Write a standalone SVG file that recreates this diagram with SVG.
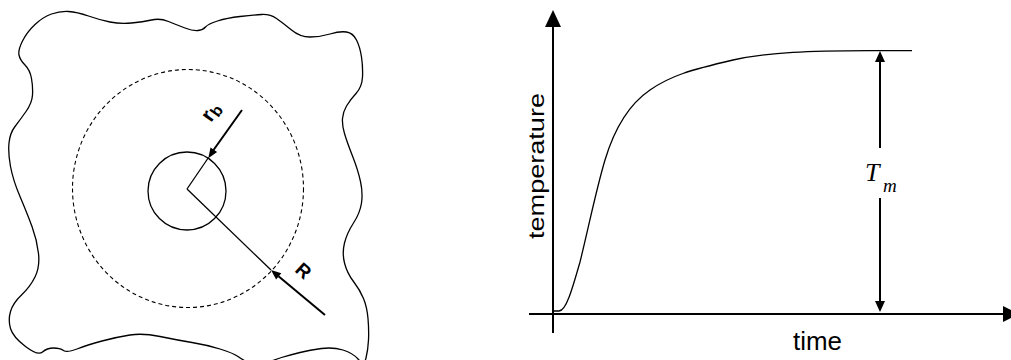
<svg xmlns="http://www.w3.org/2000/svg" width="1011" height="360" viewBox="0 0 1011 360">
<style>
.thin{fill:none;stroke:#000;stroke-width:1.3}
.thick{fill:none;stroke:#000;stroke-width:2}
.head{fill:#000;stroke:none}
.sans{font-family:"Liberation Sans",Arial,sans-serif;fill:#000}
.serif{font-family:"Liberation Serif","Times New Roman",serif;font-style:italic;fill:#000}
</style>
<rect width="1011" height="360" fill="#fff"/>
<g id="medium">
<path class="thin" d="M19,55 Q18,50 22.5,41 Q27,32 35,24.5 Q43,17 51.5,14 Q60,11 68.5,11.5 Q77,12 88.5,16 Q100,20 110,22 Q120,24 131.5,23 Q143,22 151.5,20 Q160,18 168.5,21.5 Q177,25 185,28 Q193,31 198,30.5 Q203,30 205.5,27 Q208,24 217.5,21 Q227,18 240,16.5 Q253,15 261.5,14.5 Q270,14 276.5,18.5 Q283,23 291.5,30 Q300,37 310,37 Q320,37 330,34 Q340,31 346.5,32 Q353,33 356.5,40 Q360,47 361.5,57 Q363,67 362.5,77 Q362,87 356,93.5 Q350,100 346.5,106 Q343,112 342.5,118.5 Q342,125 344.5,133.5 Q347,142 352.5,156 Q358,170 360.5,181.5 Q363,193 361.5,203 Q360,213 353.5,223 Q347,233 344.5,243 Q342,253 344.5,263 Q347,273 353.5,281.5 Q360,290 363.5,298.5 Q367,307 368,318.5 Q369,330 368.5,340 Q368,350 366,358 Q364,366 358.5,359.5 Q353,353 343,350 Q333,347 321.5,348.5 Q310,350 300,352.5 Q290,355 281.5,357.5 Q273,360 265.5,364 Q258,368 250.5,364 Q243,360 238,356.5 Q233,353 220,349 Q207,345 192,342.5 Q177,340 160,336.5 Q143,333 130,335 Q117,337 102,341 Q87,345 77,349 Q67,353 63.5,350.5 Q60,348 53.5,348 Q47,348 42.5,352 Q38,356 25.5,346.5 Q13,337 10.5,328.5 Q8,320 10.5,311.5 Q13,303 21.5,295 Q30,287 35,277 Q40,267 38.5,253.5 Q37,240 32,226.5 Q27,213 20,196.5 Q13,180 10.5,166.5 Q8,153 9,143 Q10,133 15,126.5 Q20,120 26,111.5 Q32,103 32.5,95 Q33,87 31.5,78.5 Q30,70 25,65 Q20,60 19,55 Z"/>
</g>
<g id="outer-circle">
<ellipse cx="188" cy="188.5" rx="115.5" ry="119" fill="none" stroke="#000" stroke-width="1.1" stroke-dasharray="4,3"/>
</g>
<g id="borehole">
<circle cx="187" cy="191" r="39" class="thin"/>
</g>
<g id="connectors">
<line class="thin" x1="187" y1="189" x2="208.5" y2="157.5"/>
<line class="thin" x1="187" y1="189" x2="271" y2="270"/>
<line class="thick" x1="242" y1="110" x2="213.5" y2="150"/>
<polygon class="head" points="208.3,158.3 217.1,152.1 210.5,147.5"/>
<line class="thick" x1="325" y1="315" x2="278.5" y2="276.2"/>
<polygon class="head" points="271,270 281.3,273.3 276.1,279.5"/>
</g>
<g id="label-rb">
<text class="sans" font-weight="bold" font-size="21" transform="translate(211,123) rotate(-55)">r<tspan font-size="16" dy="3">b</tspan></text>
</g>
<g id="label-R">
<text class="sans" font-weight="bold" font-size="19" transform="translate(294,271) rotate(42)">R</text>
</g>
<g id="axes">
<line class="thick" x1="553" y1="333" x2="553" y2="24"/>
<polygon class="head" points="553,10 545,27 561,27"/>
<line class="thick" x1="529" y1="314" x2="1005" y2="314"/>
<polygon class="head" points="1019,314 1003,306 1003,322"/>
</g>
<g id="curve">
<path class="thin" d="M553,311 L559,311 C566,311 572,290 580,262 C588,230 596,190 605,160 C614,130 628,105 650,90 C670,76 690,70 733,60 C770,52 810,51 870,50.7 L912,50.7"/>
</g>
<g id="dimension">
<line class="thick" x1="880" y1="60" x2="880" y2="148"/>
<line class="thick" x1="880" y1="198" x2="880" y2="303"/>
<polygon class="head" points="880,51 875,62 885,62"/>
<polygon class="head" points="880,312 875,301 885,301"/>
</g>
<g id="labels">
<text class="sans" font-size="22" text-anchor="middle" textLength="146" lengthAdjust="spacingAndGlyphs" transform="translate(544,166) rotate(-90)">temperature</text>
<text class="sans" font-size="25" x="793" y="350" textLength="49" lengthAdjust="spacingAndGlyphs">time</text>
<text class="serif" font-size="26" x="865" y="181">T</text>
<text class="serif" font-size="19" x="883" y="192">m</text>
</g>
</svg>
